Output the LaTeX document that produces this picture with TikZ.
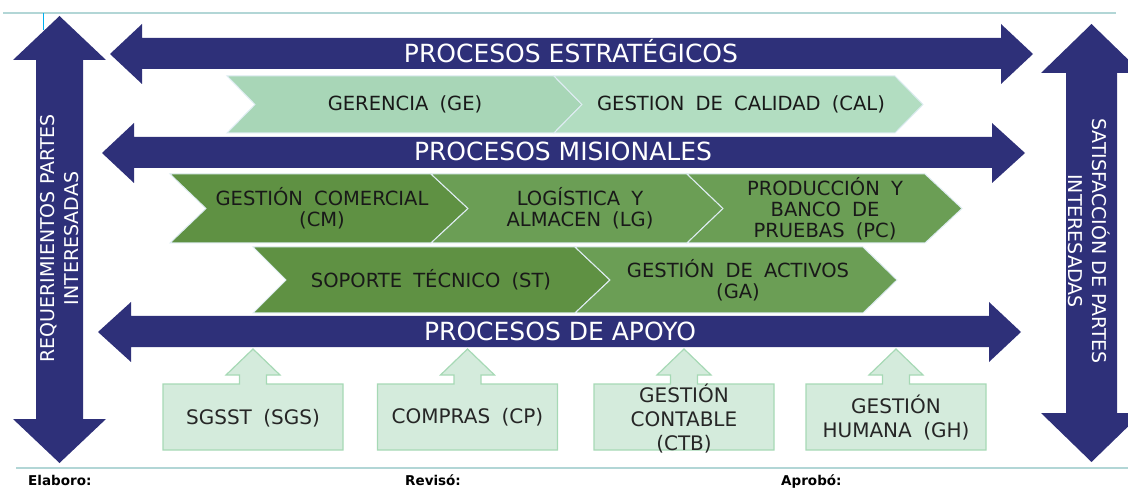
\documentclass[tikz,border=0pt]{standalone}
\usepackage{fontspec}
\setmainfont{DejaVu Sans}
\newfontfamily\procfont{DejaVu Sans}[WordSpace=1.8]
\usepackage{xcolor}

\definecolor{procnavy}{RGB}{46,48,121}
\definecolor{stratgreen}{RGB}{168,214,183}
\definecolor{stratgreenlt}{RGB}{178,221,193}
\definecolor{misgreen}{RGB}{95,145,67}
\definecolor{misgreenlt}{RGB}{107,158,85}
\definecolor{apoyofill}{RGB}{212,235,220}
\definecolor{apoyoline}{RGB}{166,217,181}
\definecolor{frameline}{RGB}{178,214,214}
\definecolor{markcyan}{RGB}{0,176,240}
\definecolor{chevedge}{RGB}{222,236,242}

\tikzset{
  bandlabel/.style={text=white, anchor=base, inner sep=0pt, font=\fontsize{25}{30}\selectfont},
  procname/.style={align=center, text=black!90, font=\procfont\fontsize{19.5}{21}\selectfont},
  supportname/.style={align=center, text=black!85, font=\procfont\fontsize{20}{24}\selectfont},
  sidelabel/.style={align=center, text=white, font=\fontsize{19}{24}\selectfont},
  footlabel/.style={anchor=base west, inner sep=0pt, font=\bfseries\fontsize{13.5}{16}\selectfont},
  chevron/.style={draw=chevedge, line width=1pt},
  supportbox/.style={fill=apoyofill, draw=apoyoline, line width=1.2pt}
}

\begin{document}
\begin{tikzpicture}[x=1pt, y=-1pt]
			\useasboundingbox (0,0) rectangle (1128,489);
			\clip (0,0) rectangle (1128,489);
			
			% Draw the page rules
			\draw[frameline, line width=1.2pt] (3,13) -- (1116,13);
			\draw[frameline, line width=1.5pt] (16,468) -- (1128,468);
			\draw[markcyan, line width=1pt] (43,13) -- (43,30);
			
			% Draw the side arrows (requirements in, satisfaction out)
			\fill[procnavy] (59.5,16) -- (106,60) -- (83,60) -- (83,419) -- (106,419) -- (59.5,463) -- (13,419) -- (36,419) -- (36,60) -- (13,60) -- cycle;
			\fill[procnavy] (1091.5,24) -- (1142,73) -- (1117,73) -- (1117,413) -- (1142,413) -- (1091.5,462) -- (1041,413) -- (1066,413) -- (1066,73) -- (1041,73) -- cycle;
			
			% Draw the three process bands
			\fill[procnavy] (110,54) -- (142,24) -- (142,38) -- (1001,38) -- (1001,24) -- (1033,54) -- (1001,84) -- (1001,69) -- (142,69) -- (142,84) -- cycle;
			\fill[procnavy] (102,153) -- (134,123) -- (134,137) -- (992,137) -- (992,123) -- (1025,153) -- (992,183) -- (992,168) -- (134,168) -- (134,183) -- cycle;
			\fill[procnavy] (98,332) -- (131,302) -- (131,316) -- (989,316) -- (989,302) -- (1021,332) -- (989,362) -- (989,347) -- (131,347) -- (131,362) -- cycle;
			
			% Draw the chevrons (strategic row, then the two mission rows)
			\fill[stratgreen, chevron] (227,76) -- (554,76) -- (582,104.5) -- (554,133) -- (227,133) -- (255,104.5) -- cycle;
			\fill[stratgreenlt, chevron] (554,76) -- (895,76) -- (923,104.5) -- (895,133) -- (554,133) -- (582,104.5) -- cycle;
			\fill[misgreen, chevron] (170,174) -- (431,174) -- (468,208.5) -- (431,243) -- (170,243) -- (206,208.5) -- cycle;
			\fill[misgreenlt, chevron] (431,174) -- (687,174) -- (723,208.5) -- (687,243) -- (431,243) -- (468,208.5) -- cycle;
			\fill[misgreenlt, chevron] (687,174) -- (925,174) -- (962,208.5) -- (925,243) -- (687,243) -- (723,208.5) -- cycle;
			\fill[misgreen, chevron] (253,247) -- (575,247) -- (610,280) -- (575,313) -- (253,313) -- (286,280) -- cycle;
			\fill[misgreenlt, chevron] (575,247) -- (863,247) -- (897,280) -- (863,313) -- (575,313) -- (610,280) -- cycle;
			
			% Draw the support boxes with their up arrows
			\draw[supportbox] (163,450) -- (163,384) -- (239.5,384) -- (239.5,375) -- (226,375) -- (253,349) -- (280,375) -- (266.5,375) -- (266.5,384) -- (343,384) -- (343,450) -- cycle;
			\draw[supportbox] (377.5,450) -- (377.5,384) -- (454,384) -- (454,375) -- (440.5,375) -- (467.5,349) -- (494.5,375) -- (481,375) -- (481,384) -- (557.5,384) -- (557.5,450) -- cycle;
			\draw[supportbox] (594,450) -- (594,384) -- (670.5,384) -- (670.5,375) -- (657,375) -- (684,349) -- (711,375) -- (697.5,375) -- (697.5,384) -- (774,384) -- (774,450) -- cycle;
			\draw[supportbox] (806,450) -- (806,384) -- (882.5,384) -- (882.5,375) -- (869,375) -- (896,349) -- (923,375) -- (909.5,375) -- (909.5,384) -- (986,384) -- (986,450) -- cycle;
			
			% Add the labels
			\node[bandlabel] (estrat) at (571,63) {PROCESOS ESTRATÉGICOS};
			\node[bandlabel] (mision) at (563,161) {PROCESOS MISIONALES};
			\node[bandlabel] (apoyo) at (560,341) {PROCESOS DE APOYO};
			
			\node[procname] (ge) at (405,104.5) {GERENCIA (GE)};
			\node[procname] (cal) at (741,104.5) {GESTION DE CALIDAD (CAL)};
			\node[procname] (cm) at (322,208.5) {GESTIÓN COMERCIAL\\(CM)};
			\node[procname] (lg) at (580,208.5) {LOGÍSTICA Y\\ALMACEN (LG)};
			\node[procname] (pc) at (825,208.5) {PRODUCCIÓN Y\\BANCO DE\\PRUEBAS (PC)};
			\node[procname] (st) at (431,280) {SOPORTE TÉCNICO (ST)};
			\node[procname] (ga) at (738,280) {GESTIÓN DE ACTIVOS\\(GA)};
			
			\node[supportname] (sgs) at (253,418) {SGSST (SGS)};
			\node[supportname] (cp) at (467.5,417) {COMPRAS (CP)};
			\node[supportname] (ctb) at (684,419) {GESTIÓN\\CONTABLE\\(CTB)};
			\node[supportname] (gh) at (896,418) {GESTIÓN\\HUMANA (GH)};
			
			\node[sidelabel, rotate=90] (req) at (59.5,238.5) {REQUERIMIENTOS PARTES\\INTERESADAS};
			\node[sidelabel, rotate=-90] (sat) at (1089,241) {SATISFACCIÓN DE PARTES\\INTERESADAS};
			
			\node[footlabel] (elab) at (28,485) {Elaboro:};
			\node[footlabel] (rev) at (405,485) {Revisó:};
			\node[footlabel] (apr) at (781,485) {Aprobó:};
			
		\end{tikzpicture}
\end{document}
